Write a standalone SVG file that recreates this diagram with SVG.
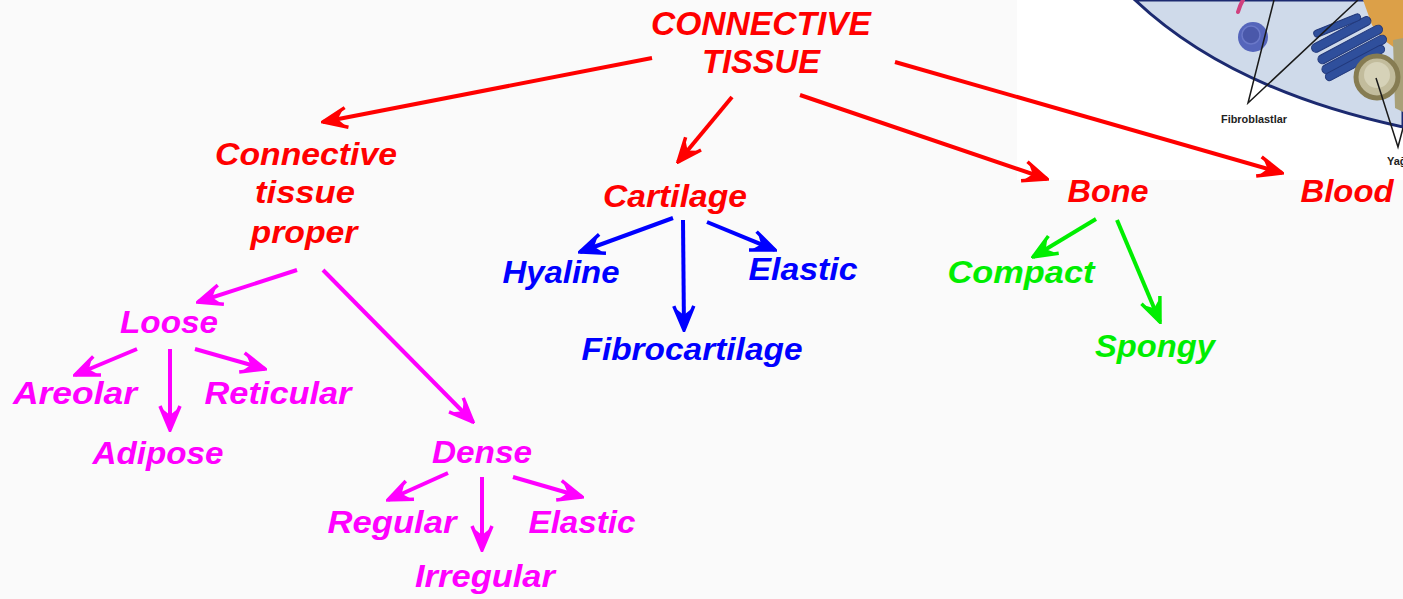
<svg xmlns="http://www.w3.org/2000/svg" width="1403" height="599" viewBox="0 0 1403 599">
  <style>
    text { font-family: "Liberation Sans", Arial, sans-serif; font-weight: bold; font-style: italic; text-anchor: middle; }
    .lbl { font-size: 31px; }
    .title { font-size: 34px; }
    .red { fill: #ff0000; }
    .blue { fill: #0000ff; }
    .green { fill: #00ee00; }
    .mag { fill: #ff00ff; }
    .ar { fill: none; stroke-width: 4; stroke-linecap: butt; }
    .ar-red { stroke: #ff0000; marker-end: url(#head-red); }
    .ar-blue { stroke: #0000ff; marker-end: url(#head-blue); }
    .ar-green { stroke: #00ee00; marker-end: url(#head-green); }
    .ar-mag { stroke: #ff00ff; marker-end: url(#head-mag); }
    .cap { font-family: "Liberation Sans", Arial, sans-serif; font-style: normal; font-weight: bold; font-size: 11px; fill: #222; text-anchor: start; }
  </style>
  <defs>
    <marker id="head-red" viewBox="-30 -15 32 30" markerWidth="32" markerHeight="30" refX="0" refY="0" markerUnits="userSpaceOnUse" orient="auto">
      <path d="M-24,-10 L0,0 L-24,10" fill="none" stroke="#ff0000" stroke-width="3.5"/>
      <path d="M1,0 L-21,-7.5 L-15,0 L-21,7.5 Z" fill="#ff0000"/>
    </marker>
    <marker id="head-blue" viewBox="-30 -15 32 30" markerWidth="32" markerHeight="30" refX="0" refY="0" markerUnits="userSpaceOnUse" orient="auto">
      <path d="M-24,-10 L0,0 L-24,10" fill="none" stroke="#0000ff" stroke-width="3.5"/>
      <path d="M1,0 L-21,-7.5 L-15,0 L-21,7.5 Z" fill="#0000ff"/>
    </marker>
    <marker id="head-green" viewBox="-30 -15 32 30" markerWidth="32" markerHeight="30" refX="0" refY="0" markerUnits="userSpaceOnUse" orient="auto">
      <path d="M-24,-10 L0,0 L-24,10" fill="none" stroke="#00ee00" stroke-width="3.5"/>
      <path d="M1,0 L-21,-7.5 L-15,0 L-21,7.5 Z" fill="#00ee00"/>
    </marker>
    <marker id="head-mag" viewBox="-30 -15 32 30" markerWidth="32" markerHeight="30" refX="0" refY="0" markerUnits="userSpaceOnUse" orient="auto">
      <path d="M-24,-10 L0,0 L-24,10" fill="none" stroke="#ff00ff" stroke-width="3.5"/>
      <path d="M1,0 L-21,-7.5 L-15,0 L-21,7.5 Z" fill="#ff00ff"/>
    </marker>
    <clipPath id="cell-clip">
      <rect x="1017" y="0" width="386" height="180"/>
    </clipPath>
  </defs>

  <!-- page -->
  <rect x="0" y="0" width="1403" height="599" fill="#fafafa"/>

  <!-- cell illustration in the corner -->
  <g id="cell-illustration" clip-path="url(#cell-clip)">
    <rect x="1017" y="0" width="386" height="180" fill="#ffffff"/>
    <path d="M1135,0 Q1230,90 1403,127 L1403,0 Z" fill="#cfdaea" stroke="#1c2a70" stroke-width="3"/>
    <path d="M1238,12 Q1240,5 1243,0" fill="none" stroke="#d0407e" stroke-width="4" stroke-linecap="round"/>
    <circle cx="1253" cy="37" r="15" fill="#5565bb"/>
    <circle cx="1251" cy="35" r="9" fill="#4a58aa" stroke="#6a78c8" stroke-width="1.5"/>
    <path d="M1363,0 L1403,0 L1403,52 Q1385,45 1372,25 Z" fill="#dca048"/>
    <g fill="#2f4f9c" stroke="#22387a" stroke-width="1">
      <rect x="1308" y="30" width="66" height="9" rx="4.5" transform="rotate(-28 1341 34)"/>
      <rect x="1314" y="40" width="72" height="9" rx="4.5" transform="rotate(-28 1350 44)"/>
      <rect x="1318" y="50" width="72" height="9" rx="4.5" transform="rotate(-28 1354 54)"/>
      <rect x="1322" y="59" width="66" height="8" rx="4" transform="rotate(-28 1355 63)"/>
      <rect x="1312" y="22" width="50" height="7" rx="3.5" transform="rotate(-22 1337 25)"/>
    </g>
    <path d="M1393,40 L1403,38 L1403,112 L1395,108 Z" fill="#a8a078"/>
    <circle cx="1377" cy="77" r="21" fill="#c2bc9c" stroke="#867c52" stroke-width="5"/>
    <circle cx="1377" cy="75" r="13" fill="#d6d2b8"/>
    <path d="M1241,96 L1248,103 L1256,96 Z" fill="#ffffff"/>
    <g fill="none" stroke="#1a1a1a" stroke-width="1.5">
      <path d="M1274,0 L1248,103 L1358,0"/>
      <path d="M1376,78 L1398,147 L1403,128"/>
    </g>
    <text class="cap" x="1221" y="123" textLength="66" lengthAdjust="spacingAndGlyphs">Fibroblastlar</text>
    <text class="cap" x="1387" y="165">Yağ</text>
  </g>

  <!-- connectors -->
  <g id="connectors">
    <line class="ar ar-red" x1="652" y1="58" x2="323" y2="122"/>
    <line class="ar ar-red" x1="732" y1="97" x2="678" y2="162"/>
    <line class="ar ar-red" x1="800" y1="95" x2="1047" y2="179"/>
    <line class="ar ar-red" x1="895" y1="62" x2="1282" y2="173"/>

    <line class="ar ar-blue" x1="673" y1="218" x2="580" y2="252"/>
    <line class="ar ar-blue" x1="683" y1="220" x2="684" y2="330"/>
    <line class="ar ar-blue" x1="707" y1="222" x2="775" y2="250"/>

    <line class="ar ar-green" x1="1096" y1="219" x2="1033" y2="257"/>
    <line class="ar ar-green" x1="1117" y1="220" x2="1160" y2="322"/>

    <line class="ar ar-mag" x1="297" y1="270" x2="198" y2="302"/>
    <line class="ar ar-mag" x1="323" y1="270" x2="473" y2="422"/>
    <line class="ar ar-mag" x1="137" y1="349" x2="75" y2="375"/>
    <line class="ar ar-mag" x1="170" y1="349" x2="170" y2="430"/>
    <line class="ar ar-mag" x1="195" y1="349" x2="265" y2="369"/>
    <line class="ar ar-mag" x1="448" y1="473" x2="388" y2="500"/>
    <line class="ar ar-mag" x1="482" y1="477" x2="482" y2="550"/>
    <line class="ar ar-mag" x1="513" y1="477" x2="582" y2="497"/>
  </g>

  <!-- nodes -->
  <g id="node-connective-tissue">
    <text class="title red" x="761" y="35" textLength="220" lengthAdjust="spacingAndGlyphs">CONNECTIVE</text>
    <text class="title red" x="761" y="73" textLength="118" lengthAdjust="spacingAndGlyphs">TISSUE</text>
  </g>
  <g id="node-ct-proper">
    <text class="lbl red" x="306" y="165" textLength="182" lengthAdjust="spacingAndGlyphs">Connective</text>
    <text class="lbl red" x="305" y="203" textLength="100" lengthAdjust="spacingAndGlyphs">tissue</text>
    <text class="lbl red" x="304" y="243" textLength="107" lengthAdjust="spacingAndGlyphs">proper</text>
  </g>
  <g id="node-cartilage">
    <text class="lbl red" x="675" y="207" textLength="144" lengthAdjust="spacingAndGlyphs">Cartilage</text>
  </g>
  <g id="node-bone">
    <text class="lbl red" x="1108" y="202" textLength="81" lengthAdjust="spacingAndGlyphs">Bone</text>
  </g>
  <g id="node-blood">
    <text class="lbl red" x="1347" y="202" textLength="93" lengthAdjust="spacingAndGlyphs">Blood</text>
  </g>
  <g id="node-hyaline">
    <text class="lbl blue" x="561" y="283" textLength="117" lengthAdjust="spacingAndGlyphs">Hyaline</text>
  </g>
  <g id="node-elastic-cartilage">
    <text class="lbl blue" x="803" y="280" textLength="109" lengthAdjust="spacingAndGlyphs">Elastic</text>
  </g>
  <g id="node-fibrocartilage">
    <text class="lbl blue" x="692" y="360" textLength="221" lengthAdjust="spacingAndGlyphs">Fibrocartilage</text>
  </g>
  <g id="node-compact">
    <text class="lbl green" x="1021" y="283" textLength="147" lengthAdjust="spacingAndGlyphs">Compact</text>
  </g>
  <g id="node-spongy">
    <text class="lbl green" x="1155" y="357" textLength="120" lengthAdjust="spacingAndGlyphs">Spongy</text>
  </g>
  <g id="node-loose">
    <text class="lbl mag" x="169" y="333" textLength="98" lengthAdjust="spacingAndGlyphs">Loose</text>
  </g>
  <g id="node-areolar">
    <text class="lbl mag" x="75" y="404" textLength="124" lengthAdjust="spacingAndGlyphs">Areolar</text>
  </g>
  <g id="node-reticular">
    <text class="lbl mag" x="278" y="404" textLength="147" lengthAdjust="spacingAndGlyphs">Reticular</text>
  </g>
  <g id="node-adipose">
    <text class="lbl mag" x="158" y="464" textLength="131" lengthAdjust="spacingAndGlyphs">Adipose</text>
  </g>
  <g id="node-dense">
    <text class="lbl mag" x="482" y="463" textLength="100" lengthAdjust="spacingAndGlyphs">Dense</text>
  </g>
  <g id="node-regular">
    <text class="lbl mag" x="392" y="533" textLength="129" lengthAdjust="spacingAndGlyphs">Regular</text>
  </g>
  <g id="node-elastic-dense">
    <text class="lbl mag" x="582" y="533" textLength="107" lengthAdjust="spacingAndGlyphs">Elastic</text>
  </g>
  <g id="node-irregular">
    <text class="lbl mag" x="485" y="587" textLength="140" lengthAdjust="spacingAndGlyphs">Irregular</text>
  </g>
</svg>
